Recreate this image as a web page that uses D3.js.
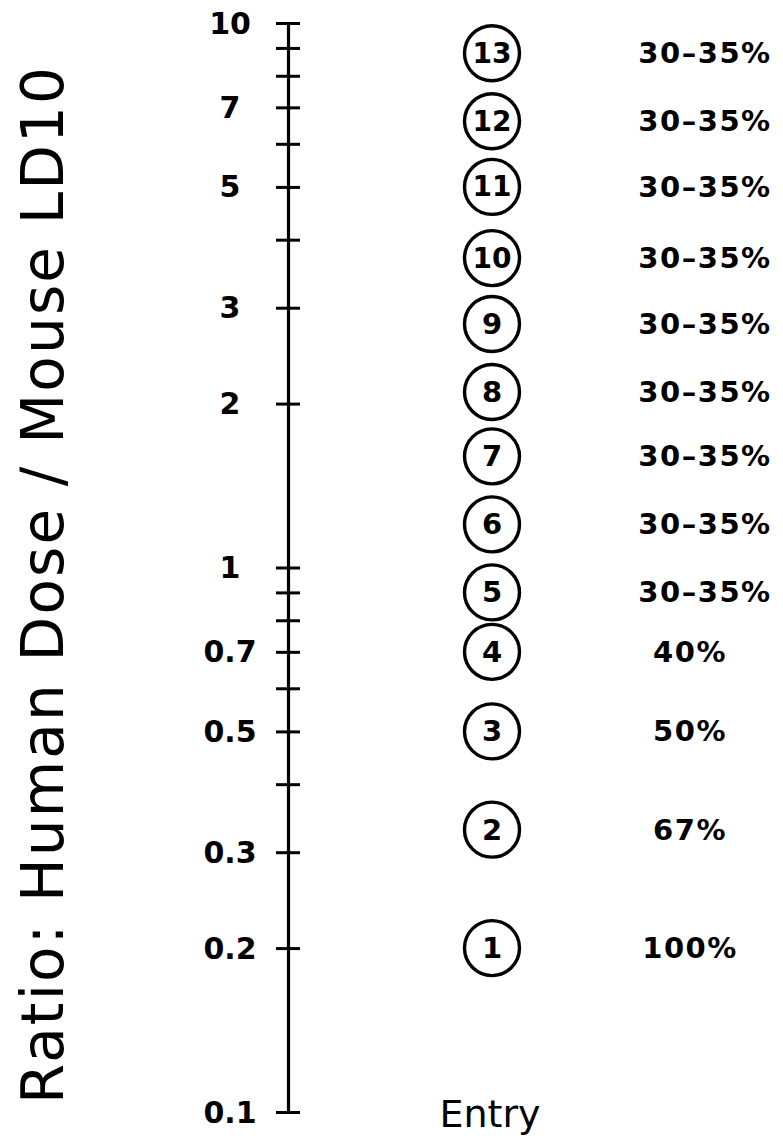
<!DOCTYPE html>
<html>
<head>
<meta charset="utf-8">
<script src="https://cdn.jsdelivr.net/npm/d3@7"></script>
<style>
  html, body { margin: 0; padding: 0; background: #fff; }
  svg { display: block; }
</style>
</head>
<body>
<svg id="chart" width="783" height="1140"></svg>
<script>
// ---- data ----
const entries = [1, 2, 3, 4, 5, 6, 7, 8, 9, 10, 11, 12, 13];
const ratios = [0.2, 0.33, 0.5, 0.7, 0.9, 1.2, 1.6, 2.1, 2.8, 3.7, 5.0, 6.6, 8.8];
const increments = ["100%", "67%", "50%", "40%", "30–35%", "30–35%", "30–35%", "30–35%", "30–35%", "30–35%", "30–35%", "30–35%", "30–35%"];
const tickValues = [10, 9, 8, 7, 6, 5, 4, 3, 2, 1, 0.9, 0.8, 0.7, 0.6, 0.5, 0.4, 0.3, 0.2, 0.1];
const tickLabels = [10, 7, 5, 3, 2, 1, 0.7, 0.5, 0.3, 0.2, 0.1];
const yTitle = "Ratio: Human Dose / Mouse LD10";
const xTitle = "Entry";

// ---- drawing ----
const svg = d3.select("#chart");
const axisX = 288;
const circleX = 492;

const y = d3.scaleLog().domain([0.1, 10]).range([1112, 23]);

const axis = d3.axisLeft(y)
  .tickValues(tickValues)
  .tickSize(12)
  .tickSizeOuter(0)
  .tickFormat("");

const gAxis = svg.append("g")
  .attr("transform", `translate(${axisX},0)`)
  .call(axis);
gAxis.select(".domain").attr("stroke", "#000").attr("stroke-width", 3.2);
gAxis.selectAll(".tick line")
  .attr("x1", -12).attr("x2", 12)
  .attr("stroke", "#000").attr("stroke-width", 3);

// tick labels
svg.append("g").selectAll("text")
  .data(tickLabels)
  .join("text")
  .attr("x", 230)
  .attr("y", d => y(d))
  .attr("text-anchor", "middle")
  .attr("dominant-baseline", "central")
  .attr("font-family", "DejaVu Sans")
  .attr("font-weight", "bold")
  .attr("font-size", 30)
  .attr("fill", "#000")
  .text(d => d);

// entry circles
const rows = entries.map((e, i) => ({ e, r: ratios[i], inc: increments[i] }));
const gRows = svg.append("g").selectAll("g")
  .data(rows)
  .join("g")
  .attr("transform", d => `translate(${circleX},${y(d.r)})`);

gRows.append("circle")
  .attr("r", 27.5)
  .attr("fill", "#fff")
  .attr("stroke", "#000")
  .attr("stroke-width", 3.4);

gRows.append("text")
  .attr("text-anchor", "middle")
  .attr("dominant-baseline", "central")
  .attr("font-family", "DejaVu Sans")
  .attr("font-weight", "bold")
  .attr("font-size", d => d.e >= 10 ? 28 : 29)
  .attr("fill", "#000")
  .text(d => d.e);

gRows.append("text")
  .attr("x", d => d.inc.includes("–") ? 213 : 198)
  .attr("text-anchor", "middle")
  .attr("dominant-baseline", "central")
  .attr("font-family", "DejaVu Sans")
  .attr("font-weight", "bold")
  .attr("font-size", 29)
  .attr("letter-spacing", 1.5)
  .attr("fill", "#000")
  .text(d => d.inc);

// x title
svg.append("text")
  .attr("x", 490)
  .attr("y", 1127)
  .attr("text-anchor", "middle")
  .attr("font-family", "DejaVu Sans")
  .attr("font-size", 38)
  .attr("fill", "#000")
  .text(xTitle);

// y title
svg.append("text")
  .attr("transform", "translate(63,1104) rotate(-90)")
  .attr("x", 0)
  .attr("y", 0)
  .attr("text-anchor", "start")
  .attr("font-family", "DejaVu Sans")
  .attr("font-size", 58)
  .attr("textLength", 1037)
  .attr("lengthAdjust", "spacing")
  .attr("fill", "#000")
  .text(yTitle);
</script>
</body>
</html>
